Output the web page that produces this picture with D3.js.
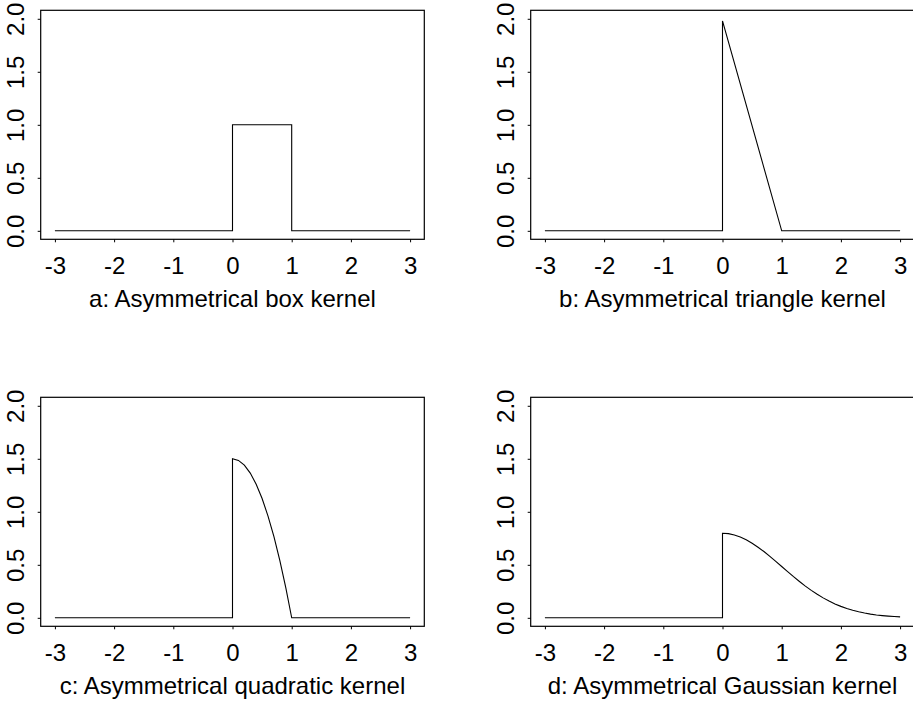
<!DOCTYPE html>
<html>
<head>
<meta charset="utf-8">
<script src="https://cdn.jsdelivr.net/npm/d3@7"></script>
<style>
  body { margin: 0; background: #fff; }
  text { font-family: "Liberation Sans", Arial, Helvetica, sans-serif; }
</style>
</head>
<body>
<div id="chart"></div>
<script>
/* four asymmetrical kernels, R style panels */

const xTicks = [-3, -2, -1, 0, 1, 2, 3];
const yTicks = [0, 0.5, 1, 1.5, 2];

const boxX = [-3, 0, 0, 1, 1, 3];
const boxY = [0, 0, 1, 1, 0, 0];

const triX = [-3, 0, 0, 1, 3];
const triY = [0, 0, 1.98, 0, 0];

const quadX = [-3, 0, 0, 0.1, 0.2, 0.3, 0.4, 0.5, 0.6, 0.7, 0.8, 0.9, 1, 3];
const quadY = [0, 0, 1.5, 1.485, 1.44, 1.365, 1.26, 1.125, 0.96, 0.765, 0.54, 0.285, 0, 0];

const gaussX = [-3, 0, 0, 0.1, 0.2, 0.3, 0.4, 0.5, 0.6, 0.7, 0.8, 0.9, 1, 1.1, 1.2, 1.3, 1.4, 1.5,
                1.6, 1.7, 1.8, 1.9, 2, 2.1, 2.2, 2.3, 2.4, 2.5, 2.6, 2.7, 2.8, 2.9, 3];
const gaussY = [0, 0, 0.798, 0.794, 0.782, 0.763, 0.737, 0.704, 0.666, 0.625, 0.579, 0.532, 0.484,
                0.436, 0.388, 0.343, 0.299, 0.259, 0.222, 0.188, 0.158, 0.131, 0.108, 0.088, 0.071,
                0.057, 0.045, 0.035, 0.027, 0.021, 0.016, 0.012, 0.009];

const titles = ["a: Asymmetrical box kernel", "b: Asymmetrical triangle kernel",
                "c: Asymmetrical quadratic kernel", "d: Asymmetrical Gaussian kernel"];

const width = 913, height = 702;
const fs = 24;

const panels = [
  {xs: boxX, ys: boxY, left: 40.7, top: 10.3},
  {xs: triX, ys: triY, left: 530.7, top: 10.3},
  {xs: quadX, ys: quadY, left: 40.7, top: 397.3},
  {xs: gaussX, ys: gaussY, left: 530.7, top: 397.3}
];
const pw = 383.6, ph = 229;

let svg = d3.select("#chart")
    .append("svg")
    .attr("width", width)
    .attr("height", height);

panels.forEach((p, i) => {
    let x = d3.scaleLinear()
        .domain([-3.24, 3.24])
        .range([p.left, p.left + pw]);
    let y = d3.scaleLinear()
        .domain([-0.08, 2.08])
        .range([p.top + ph, p.top]);

    let g = svg.append("g");

    // x axis (plain hyphen for minus, like R)
    let xa = g.append("g")
        .attr("transform", `translate(0,${p.top + ph})`)
        .call(d3.axisBottom(x).tickValues(xTicks).tickSize(3).tickSizeOuter(0).tickPadding(14.5)
              .tickFormat(d => String(d)));
    xa.select(".domain").remove();
    xa.selectAll("text").attr("font-size", fs).attr("font-family", null).attr("fill", "#000");

    // y axis, labels turned like R
    let ya = g.append("g")
        .attr("transform", `translate(${p.left},0)`)
        .call(d3.axisLeft(y).tickValues(yTicks).tickSize(3).tickSizeOuter(0)
              .tickFormat(d3.format(".1f")));
    ya.select(".domain").remove();
    ya.selectAll("text")
        .attr("x", null).attr("dy", null)
        .attr("font-size", fs).attr("font-family", null).attr("fill", "#000")
        .attr("text-anchor", "middle")
        .attr("transform", "translate(-16.5,0) rotate(-90)");

    // frame
    g.append("rect")
        .attr("x", p.left).attr("y", p.top)
        .attr("width", pw).attr("height", ph)
        .attr("fill", "none").attr("stroke", "#000").attr("stroke-width", 1.2);

    // kernel line
    let pts = p.xs.map((v, k) => [v, p.ys[k]]);
    g.append("path")
        .datum(pts)
        .attr("fill", "none")
        .attr("stroke", "#000")
        .attr("stroke-width", 1.1)
        .attr("d", d3.line().x(d => x(d[0])).y(d => y(d[1])));

    // title under axis
    g.append("text")
        .attr("x", x(0))
        .attr("y", p.top + ph + 67.5)
        .attr("text-anchor", "middle")
        .attr("font-size", fs)
        .text(titles[i]);
});
</script>
</body>
</html>
